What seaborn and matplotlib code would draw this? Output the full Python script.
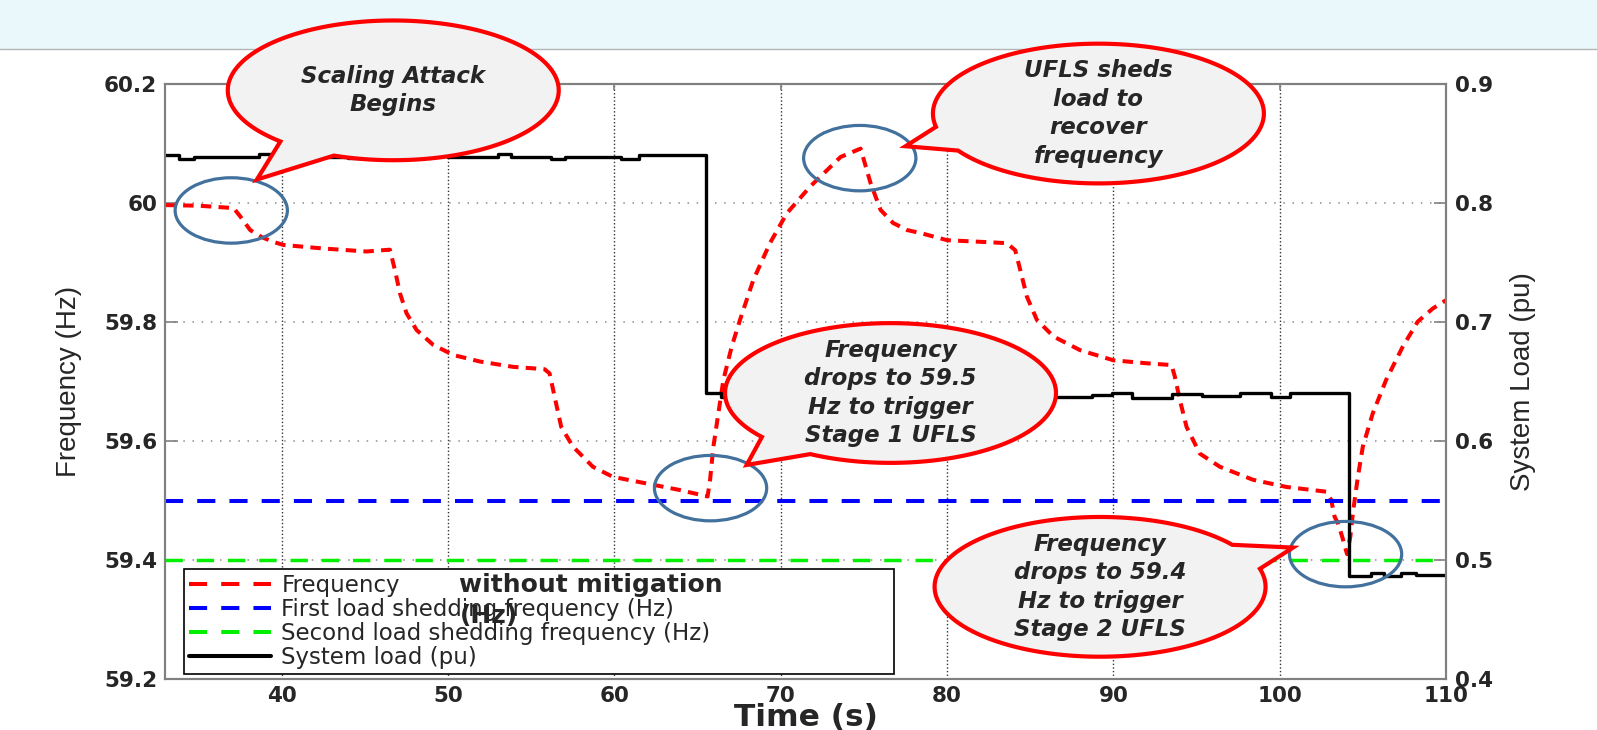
import numpy as np
import matplotlib
matplotlib.use("Agg")
import matplotlib.pyplot as plt
from matplotlib import font_manager
from matplotlib.lines import Line2D
from matplotlib.patches import Ellipse, Polygon, Rectangle
import seaborn as sns

# frequency without mitigation (Hz)
time_freq = [33.0, 35.0, 37.1, 37.5, 38.1, 38.8, 39.5, 40.1, 42.5, 45.1, 46.0, 46.5,
             46.8, 47.1, 47.5, 48.1, 49.1, 50.3, 51.9, 53.9, 55.8, 56.1, 56.4, 56.8,
             57.5, 58.7, 59.9, 61.9, 63.9, 65.6, 65.75, 65.95, 66.25, 66.55, 67.05,
             67.55, 68.35, 69.35, 70.36, 71.76, 73.6, 74.8, 75.4, 76.0, 76.75, 77.6,
             78.4, 80.0, 82.2, 83.6, 84.1, 84.4, 84.8, 85.4, 86.4, 88.0, 90.0, 92.0,
             93.5, 93.7, 94.0, 94.4, 95.2, 96.4, 98.4, 100.4, 102.8, 103.1, 103.3,
             103.5, 103.75, 104.05, 104.25, 104.4, 104.7, 105.0, 105.6, 106.4, 107.4,
             108.3, 109.2, 110.0]
freq = [59.997, 59.996, 59.992, 59.978, 59.955, 59.943, 59.935, 59.930, 59.924, 59.919,
        59.921, 59.922, 59.888, 59.849, 59.815, 59.787, 59.762, 59.745, 59.734, 59.725,
        59.721, 59.714, 59.675, 59.624, 59.591, 59.557, 59.540, 59.529, 59.518, 59.507,
        59.535, 59.591, 59.647, 59.703, 59.759, 59.804, 59.871, 59.933, 59.983, 60.028,
        60.078, 60.092, 60.034, 59.989, 59.967, 59.955, 59.950, 59.938, 59.935, 59.933,
        59.921, 59.888, 59.843, 59.804, 59.776, 59.753, 59.736, 59.731, 59.728, 59.708,
        59.669, 59.624, 59.579, 59.557, 59.535, 59.523, 59.515, 59.501, 59.473, 59.462,
        59.440, 59.410, 59.440, 59.479, 59.540, 59.591, 59.647, 59.703, 59.759, 59.801,
        59.823, 59.837]

# system load (pu), piecewise constant
time_load = [33.0, 33.8, 34.7, 38.6, 39.3, 44.0, 45.5, 50.0, 53.0, 53.8, 56.2, 57.0,
             60.4, 61.5, 62.2, 65.5, 66.4, 70.0, 75.0, 80.0, 86.5, 88.7, 89.9, 91.1,
             93.5, 95.3, 97.6, 99.5, 100.6, 104.15, 105.5, 106.3, 107.3, 108.2, 110.0]
load = [0.8406, 0.8373, 0.8392, 0.8415, 0.8392, 0.8380, 0.8395, 0.8387, 0.8412, 0.8387,
        0.8370, 0.8387, 0.8373, 0.8406, 0.8410, 0.6402, 0.6373, 0.6385, 0.6370, 0.6390,
        0.6368, 0.6388, 0.6402, 0.6360, 0.6396, 0.6380, 0.6402, 0.6373, 0.6404, 0.4865,
        0.4889, 0.4865, 0.4889, 0.4875, 0.4875]

first_shed_hz = 59.5
second_shed_hz = 59.4

x_ticks = [40, 50, 60, 70, 80, 90, 100, 110]
freq_ticks = [59.2, 59.4, 59.6, 59.8, 60.0, 60.2]
freq_tick_labels = ["59.2", "59.4", "59.6", "59.8", "60", "60.2"]
load_ticks = [0.4, 0.5, 0.6, 0.7, 0.8, 0.9]
load_tick_labels = ["0.4", "0.5", "0.6", "0.7", "0.8", "0.9"]

legend_labels = ["Frequency", "First load shedding frequency (Hz)",
                 "Second load shedding frequency (Hz)", "System load (pu)"]

# speech bubbles: text, centre (s, Hz), tail tip (s, Hz), tail base angles (deg)
callouts = [
    ("Scaling Attack\nBegins", (46.7, 60.19), (38.5, 60.04), (-133, -111)),
    ("UFLS sheds\nload to\nrecover\nfrequency", (89.1, 60.151), (77.5, 60.096), (-169, -148)),
    ("Frequency\ndrops to 59.5\nHz to trigger\nStage 1 UFLS", (76.6, 59.681), (67.95, 59.56), (-141, -119)),
    ("Frequency\ndrops to 59.4\nHz to trigger\nStage 2 UFLS", (89.2, 59.355), (100.8, 59.421), (15, 37)),
]
# circled spots on the frequency trace
circled = [(36.96, 59.988), (74.75, 60.076), (65.78, 59.521), (103.96, 59.41)]


def bubble_outline(centre, tip, angles, w=19.9, h=0.235):
    cx, cy = centre
    lo, hi = angles
    theta = np.radians(np.linspace(hi, lo + 360, 240))
    pts = np.column_stack([cx + w / 2 * np.cos(theta), cy + h / 2 * np.sin(theta)])
    return np.vstack([pts, [tip]])


def main():
    sns.set_style("white")
    names = {f.name for f in font_manager.fontManager.ttflist}
    plt.rcParams["font.family"] = ["DejaVu Sans"]
    narrow = "Liberation Sans Narrow" if "Liberation Sans Narrow" in names else "Liberation Sans"
    label_size = 24 if narrow == "Liberation Sans Narrow" else 20

    fig = plt.figure(figsize=(15.97, 7.30), dpi=100)
    # slide header band
    fig.patches.append(Rectangle((0, 1 - 49 / 730), 1, 49 / 730, transform=fig.transFigure,
                                 facecolor="#eaf8fc", edgecolor="none", zorder=-2))
    fig.lines.append(Line2D([0, 1], [1 - 49 / 730] * 2, transform=fig.transFigure,
                            color="#b4b4b4", lw=1.0, zorder=-1))

    ax = fig.add_axes([0.10357, 0.06986, 0.80188, 0.81452])
    ax2 = ax.twinx()

    sns.lineplot(x=time_freq, y=freq, ax=ax, color="#ff0000", lw=2.9,
                 linestyle=(0, (2.6, 1.8)), sort=False, estimator=None, legend=False)
    ax.axhline(first_shed_hz, color="#0000ff", lw=2.9, linestyle=(0, (4.5, 3.5)))
    ax.axhline(second_shed_hz, color="#00f000", lw=2.5, linestyle=(0, (5, 4)))
    sns.lineplot(x=time_load, y=load, ax=ax2, color="black", lw=2.4,
                 drawstyle="steps-post", sort=False, estimator=None, legend=False)

    ax.set_xlim(33, 110)
    ax.set_ylim(59.2, 60.2)
    ax.set_xticks(x_ticks, [str(v) for v in x_ticks], fontweight="bold")
    ax.set_yticks(freq_ticks, freq_tick_labels, fontweight="bold")

    ax.xaxis.grid(True, color="#333333", linestyle=(0, (1, 1.6)), linewidth=1.0)
    ax.yaxis.grid(True, color="#8c8c8c", linestyle=(0, (1, 5)), linewidth=1.1)

    for a in (ax, ax2):
        for sp in a.spines.values():
            sp.set_color("#808080")
            sp.set_linewidth(1.5)
    ax.tick_params(axis="y", direction="in", length=9, width=1.2, color="#808080",
                   pad=6, labelsize=15.5)
    ax.tick_params(axis="x", direction="in", length=4.5, width=1.2, color="#808080",
                   pad=5, labelsize=15.5, top=True)
    ax2.tick_params(axis="y", direction="in", length=9, width=1.2, color="#808080",
                    pad=6.5, labelsize=15.5)

    ax.set_xlabel("Time (s)", fontsize=22.5, fontweight="bold")
    ax.xaxis.set_label_coords(0.5, -0.040)
    ax.set_ylabel("Frequency (Hz)", family=narrow, fontsize=label_size)
    ax.yaxis.set_label_coords(-0.065, 0.5)
    ax2.set_ylabel("System Load (pu)", family=narrow, fontsize=label_size)
    ax2.yaxis.set_label_coords(1.050, 0.5)

    # circles and bubbles sit above the load trace, in frequency coordinates
    for c in circled:
        ax2.add_patch(Ellipse(c, width=6.75, height=0.11, transform=ax.transData,
                              fill=False, edgecolor="#41719c", lw=2.3, zorder=3,
                              clip_on=False))
    for txt, centre, tip, angles in callouts:
        ax2.add_patch(Polygon(bubble_outline(centre, tip, angles), closed=True,
                              transform=ax.transData, facecolor="#f2f2f2",
                              edgecolor="#ff0000", lw=3, zorder=4, clip_on=False,
                              joinstyle="miter"))
        ax2.text(centre[0], centre[1], txt, transform=ax.transData, ha="center",
                 va="center", fontsize=16.5, fontweight="bold", fontstyle="italic",
                 linespacing=1.3, zorder=5)

    handles = [
        Line2D([], [], color="#ff0000", lw=2.9, linestyle=(0, (4.5, 3.5))),
        Line2D([], [], color="#0000ff", lw=2.9, linestyle=(0, (4.5, 3.5))),
        Line2D([], [], color="#00f000", lw=2.9, linestyle=(0, (4.5, 3.5))),
        Line2D([], [], color="black", lw=2.9),
    ]
    leg = ax2.legend(handles, legend_labels, loc="lower left",
                     bbox_to_anchor=(0.0145, 0.0084, 0.5545, 0.177), mode="expand",
                     borderaxespad=0, fontsize=16.5, handlelength=3.6,
                     handletextpad=0.45, labelspacing=0.05, borderpad=0.2,
                     fancybox=False, framealpha=1, edgecolor="black")
    leg.get_frame().set_linewidth(1.2)
    leg.set_zorder(6)
    # the pasted-over words on the first legend entry
    ax2.text(50.65, 59.358, "without mitigation", transform=ax.transData, ha="left",
             va="center", fontsize=18, fontweight="bold", zorder=7)
    ax2.text(50.7, 59.306, "(Hz)", transform=ax.transData, ha="left",
             va="center", fontsize=18, fontweight="bold", zorder=7)

    ax2.set_ylim(0.4, 0.9)
    ax2.set_yticks(load_ticks, load_tick_labels, fontweight="bold")
    ax.set_xlim(33, 110)

    fig.savefig("out.png", dpi=100)
    plt.close(fig)


if __name__ == "__main__":
    main()
